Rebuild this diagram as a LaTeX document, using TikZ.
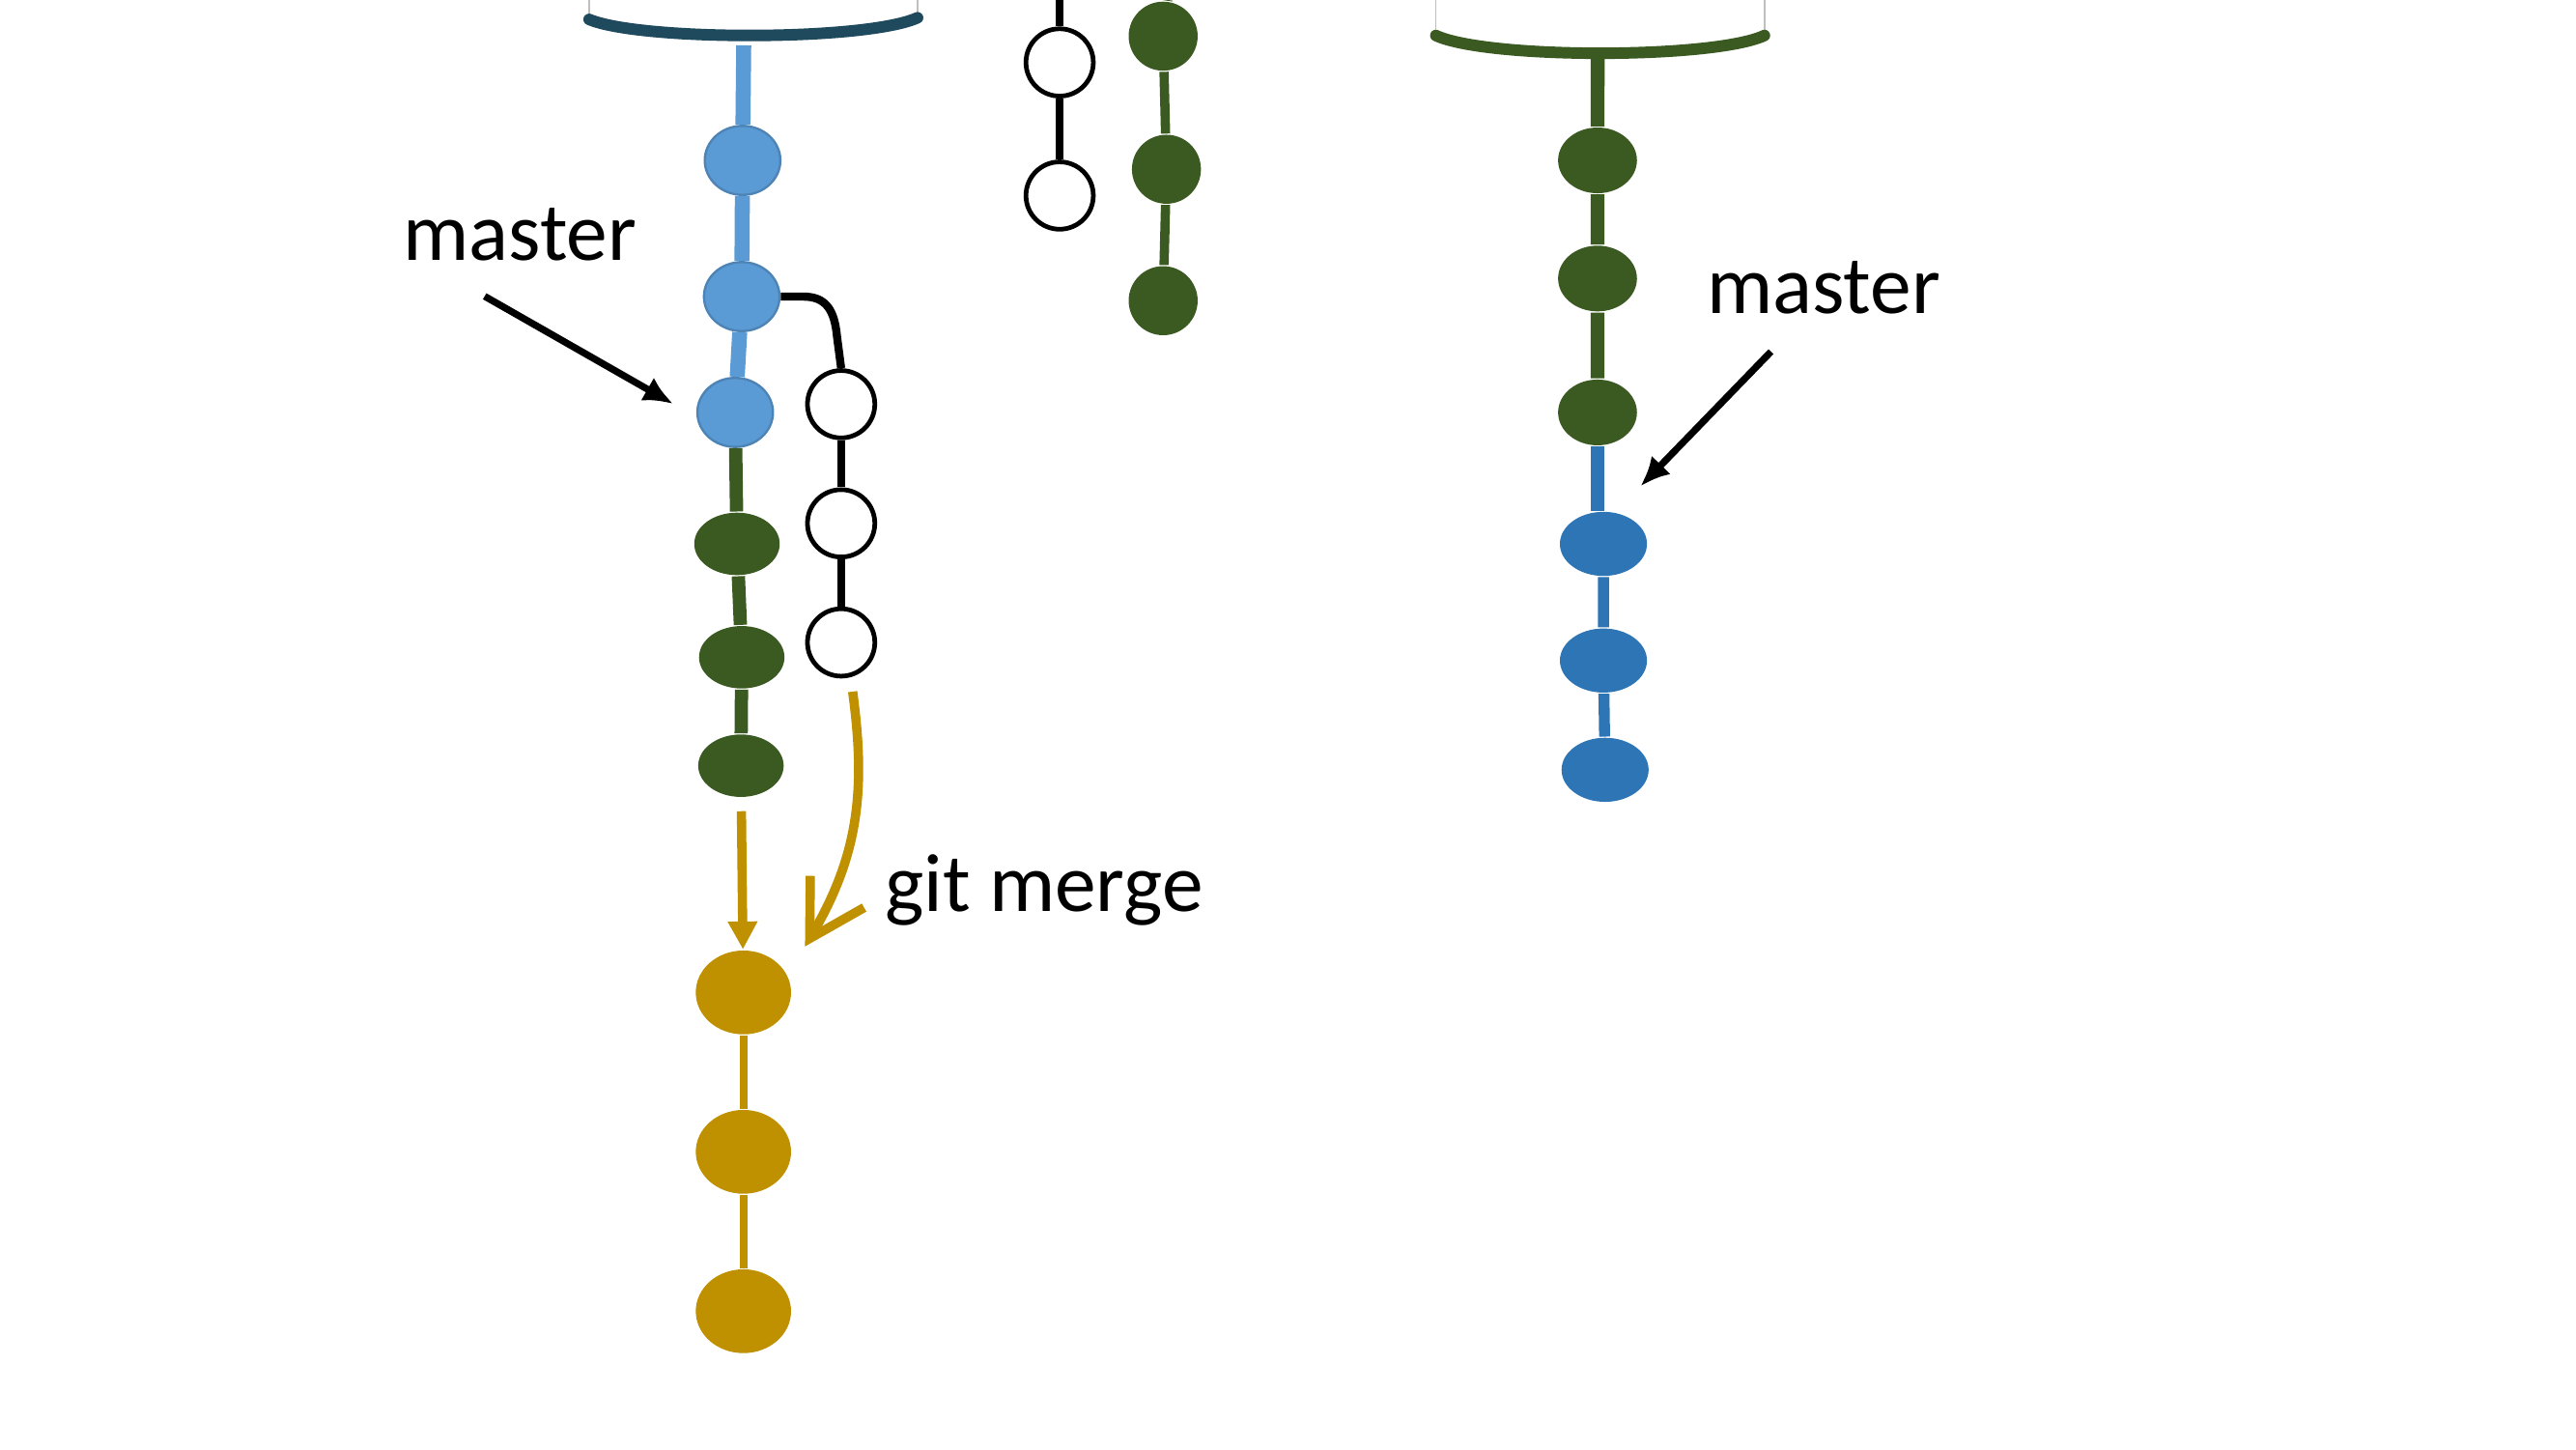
\documentclass[tikz,border=0pt]{standalone}
\usepackage{fontspec}
\setmainfont{Carlito}
\usepackage{xcolor}
\usepackage{tikz}
\usetikzlibrary{shapes.geometric,arrows.meta}
\definecolor{lblue}{HTML}{5B9BD5}
\definecolor{dblue}{HTML}{2E75B6}
\definecolor{dgreen}{HTML}{3B5A22}
\definecolor{gold}{HTML}{BF9000}
\definecolor{slate}{HTML}{1F4A5E}
\tikzset{>={Latex[length=1.8mm,width=1.6mm]}}

\begin{document}
\begin{tikzpicture}[x=0.1mm,y=-0.1mm,
    commit/.style={ellipse,inner sep=0pt},
    bc/.style={commit,fill=lblue,draw=lblue!85!black,line width=0.4pt,minimum width=4.6mm,minimum height=4.2mm},
    gc/.style={commit,fill=dgreen,minimum width=5.2mm,minimum height=3.8mm},
    rgc/.style={commit,fill=dgreen,minimum width=4.8mm,minimum height=4mm},
    rbc/.style={commit,fill=dblue,minimum width=5.3mm,minimum height=3.9mm},
    wc/.style={circle,inner sep=0pt,draw=black,line width=0.8pt,fill=white,minimum size=4.1mm},
    mgc/.style={circle,inner sep=0pt,fill=dgreen,minimum size=4.2mm},
    yc/.style={commit,fill=gold,minimum width=5.8mm,minimum height=5.1mm},
    lbl/.style={font=\fontsize{14.3}{17}\selectfont,inner sep=0pt,anchor=base}]
      \useasboundingbox (0,0) rectangle (1568,882);

      % left history
      \draw[gray!50,line width=0.3pt] (358.6,0) -- (358.6,11.8) (558.5,0) -- (558.5,10.8);
      \draw[slate,line width=2pt,line cap=round] (358.6,11.8) .. controls (390,25) and (527,25) .. (558.5,10.8);
      \coordinate (ltop) at (452.7,27.6);
      \node[bc] (b1) at (452,97.6) {};
      \node[bc] (b2) at (451.5,180.5) {};
      \node[bc] (b3) at (447.5,251) {};
      \node[gc] (g1) at (448.6,331) {};
      \node[gc] (g2) at (451.5,400) {};
      \node[gc] (g3) at (451,466) {};
      \node[wc] (w1) at (512,246) {};
      \node[wc] (w2) at (512,318.5) {};
      \node[wc] (w3) at (512,391) {};
      \node[yc] (y1) at (452.5,604) {};
      \node[yc] (y2) at (452.5,701) {};
      \node[yc] (y3) at (452.5,798) {};
      \draw[lblue,line width=2.6pt] (ltop) -- (b1) -- (b2) -- (b3);
      \draw[dgreen,line width=2.3pt] (b3) -- (g1) -- (g2) -- (g3);
      \draw[line width=1.4pt] (b2.east) -- (489,180.5) .. controls (503,180.5) and (508,189) .. (509.5,205) -- (w1.north);
      \draw[line width=1.4pt] (w1) -- (w2) -- (w3);
      \draw[gold,line width=1.3pt] (y1) -- (y2) -- (y3);

      % merge
      \coordinate (mtip) at (490,576);
      \draw[gold,line width=1.6pt,-{Triangle[length=1.7mm,width=1.7mm]},shorten <=0.8mm] (g3) -- (y1);
      \draw[gold,line width=1.6pt,-{Straight Barb[length=3.3mm,width=3.8mm]}] ([xshift=0.7mm,yshift=-0.8mm]w3.south) .. controls (527,480) and (523,520) .. (mtip);
      \node[lbl] (gm) at (635.5,554.6) {git merge};

      \node[lbl] (lm) at (316.5,158.7) {master};
      \coordinate (lms) at (295,180.3);
      \coordinate (lmt) at (409.8,245.8);
      \draw[->,line width=1.2pt] (lms) -- (lmt);

      % middle
      \coordinate (mwtop) at (645,0);
      \coordinate (mgtop) at (711,0);
      \node[wc] (mw1) at (645,38) {};
      \node[wc] (mw2) at (645,119) {};
      \node[mgc] (mg1) at (708,22) {};
      \node[mgc] (mg2) at (710,103) {};
      \node[mgc] (mg3) at (708,183) {};
      \draw[line width=1.4pt] (mwtop) -- (mw1) -- (mw2);
      \draw[dgreen,line width=1.6pt] (mgtop) -- (mg1) -- (mg2) -- (mg3);

      % right history
      \draw[gray!50,line width=0.3pt] (874,0) -- (874,21.6) (1074,0) -- (1074,21.6);
      \draw[dgreen,line width=2pt,line cap=round] (874,21.6) .. controls (905,36) and (1043,36) .. (1074,21.6);
      \coordinate (rtop) at (972.5,32);
      \node[rgc] (rg1) at (972.4,97.6) {};
      \node[rgc] (rg2) at (972.4,169.5) {};
      \node[rgc] (rg3) at (972.4,251) {};
      \node[rbc] (rb1) at (976,331) {};
      \node[rbc] (rb2) at (976,402) {};
      \node[rbc] (rb3) at (977,468.5) {};
      \draw[dgreen,line width=2.4pt] (rtop) -- (rg1) -- (rg2) -- (rg3);
      \draw[dblue,line width=2.2pt] (rg3.south) -- (rg3.south |- rb1.north);
      \draw[dblue,line width=1.9pt] (rb1) -- (rb2) -- (rb3);

      \node[lbl] (rm) at (1110,190.5) {master};
      \coordinate (rms) at (1078,214);
      \coordinate (rmt) at (998.5,296);
      \draw[->,line width=1.2pt] (rms) -- (rmt);
    \end{tikzpicture}
\end{document}
